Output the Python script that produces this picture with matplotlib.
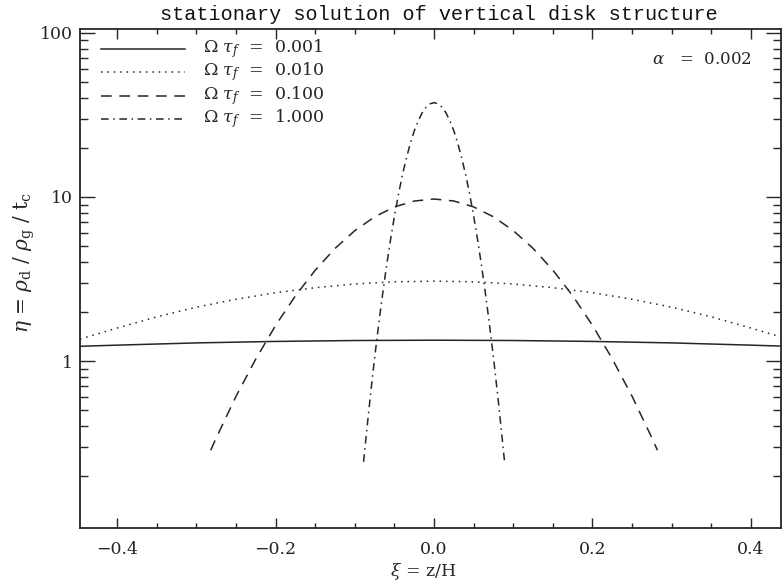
import matplotlib
matplotlib.use('Agg')
import matplotlib.pyplot as plt
from matplotlib.ticker import FixedLocator, FixedFormatter, MultipleLocator, NullFormatter

# values (eta vs xi), one list pair per curve
xi_001 = [-0.447, -0.4, -0.3, -0.2, -0.1, 0.0, 0.1, 0.2, 0.3, 0.4, 0.447]
eta_001 = [1.23, 1.25, 1.29, 1.317, 1.334, 1.34, 1.334, 1.317, 1.29, 1.25, 1.23]

xi_010 = [-0.447, -0.4, -0.35, -0.3, -0.25, -0.2, -0.15, -0.1, -0.05, 0.0,
          0.05, 0.1, 0.15, 0.2, 0.25, 0.3, 0.35, 0.4, 0.447]
eta_010 = [1.36, 1.59, 1.86, 2.13, 2.38, 2.61, 2.80, 2.95, 3.04, 3.07,
           3.04, 2.95, 2.80, 2.61, 2.38, 2.13, 1.86, 1.59, 1.36]

xi_100 = [-0.282, -0.275, -0.25, -0.225, -0.2, -0.175, -0.15, -0.125, -0.1, -0.075,
          -0.05, -0.025, 0.0, 0.025, 0.05, 0.075, 0.1, 0.125, 0.15, 0.175,
          0.2, 0.225, 0.25, 0.275, 0.282]
eta_100 = [0.286, 0.34, 0.61, 1.03, 1.65, 2.50, 3.58, 4.86, 6.24, 7.57,
           8.70, 9.45, 9.72, 9.45, 8.70, 7.57, 6.24, 4.86, 3.58, 2.50,
           1.65, 1.03, 0.61, 0.34, 0.286]

xi_1000 = [-0.089, -0.085, -0.08, -0.075, -0.07, -0.065, -0.06, -0.055, -0.05, -0.045,
           -0.04, -0.035, -0.03, -0.025, -0.02, -0.015, -0.01, -0.005, 0.0,
           0.005, 0.01, 0.015, 0.02, 0.025, 0.03, 0.035, 0.04, 0.045,
           0.05, 0.055, 0.06, 0.065, 0.07, 0.075, 0.08, 0.085, 0.089]
eta_1000 = [0.243, 0.377, 0.64, 1.05, 1.66, 2.55, 3.80, 5.47, 7.65, 10.35,
            13.6, 17.2, 21.2, 25.3, 29.1, 32.6, 35.3, 37.0, 37.6,
            37.0, 35.3, 32.6, 29.1, 25.3, 21.2, 17.2, 13.6, 10.35,
            7.65, 5.47, 3.80, 2.55, 1.66, 1.05, 0.64, 0.377, 0.243]

labels = ['0.001', '0.010', '0.100', '1.000']
alpha_value = '0.002'
xtick_vals = [-0.4, -0.2, 0.0, 0.2, 0.4]
xtick_text = ['\u22120.4', '\u22120.2', '0.0', '0.2', '0.4']

plt.rcParams['font.family'] = 'DejaVu Serif'
plt.rcParams['mathtext.fontset'] = 'dejavuserif'

W, H = 783, 582
fig = plt.figure(figsize=(W / 100, H / 100), dpi=100)
ax = fig.add_axes([80 / W, 1 - 528 / H, (781 - 80) / W, (528 - 29) / H])

lc = '#262626'
lw = 1.1
styles = ['-', (0, (1, 3.2)), (0, (7, 5)), (0, (5, 3, 1, 3))]
ax.plot(xi_001, eta_001, color=lc, lw=lw, ls=styles[0])
ax.plot(xi_010, eta_010, color=lc, lw=lw, ls=styles[1])
ax.plot(xi_100, eta_100, color=lc, lw=lw, ls=styles[2])
ax.plot(xi_1000, eta_1000, color=lc, lw=lw, ls=styles[3])

ax.set_yscale('log')
ax.set_xlim(-0.447, 0.438)
ax.set_ylim(0.096, 105.7)

# ticks
ax.set_xticks(xtick_vals)
ax.set_xticklabels(xtick_text)
ax.xaxis.set_minor_locator(MultipleLocator(0.05))
ax.yaxis.set_major_locator(FixedLocator([1, 10, 100]))
ax.yaxis.set_major_formatter(FixedFormatter(['1', '10', '100']))
minors = [m * 10.0 ** e for e in (-1, 0, 1) for m in range(2, 10)]
ax.yaxis.set_minor_locator(FixedLocator(minors))
ax.yaxis.set_minor_formatter(NullFormatter())
ax.tick_params(which='both', direction='in', top=True, right=True,
               labelsize=12.5, colors=lc, width=1.0)
ax.tick_params(axis='y', which='major', length=11, pad=5)
ax.tick_params(axis='y', which='minor', length=6)
ax.tick_params(axis='x', which='major', length=7, pad=9)
ax.tick_params(axis='x', which='minor', length=3.5)

for s in ax.spines.values():
    s.set_linewidth(1.3)
    s.set_color(lc)

# legend drawn by hand as line segments + text
rows = [49, 72, 96, 119]
for r, st, lab in zip(rows, styles, labels):
    yf = 1 - r / H
    fig.add_artist(plt.Line2D([101 / W, 185 / W], [yf, yf], color=lc, lw=lw, ls=st))
    fig.text(203 / W, yf, r'$\Omega\ \tau_f$  =  ' + lab, fontsize=12.5,
             va='center', ha='left', color=lc)

fig.text(752 / W, 1 - 59 / H, r'$\alpha$   =  ' + alpha_value, fontsize=12,
         va='center', ha='right', color=lc)

fig.text(439 / W, 1 - 14 / H, 'stationary solution of vertical disk structure',
         fontsize=14.5, family='Liberation Mono',
         ha='center', va='center', color='#111111')
fig.text(423 / W, 1 - 572 / H, r'$\xi$ = z/H', fontsize=12.5,
         ha='center', va='center', color=lc)
fig.text(24 / W, 1 - 262 / H, r'$\eta$ = $\rho_{\rm d}$ / $\rho_{\rm g}$ / t$_{\rm c}$',
         fontsize=14.5, ha='center', va='center', rotation=90, color=lc)

fig.savefig('out.png', dpi=100)
